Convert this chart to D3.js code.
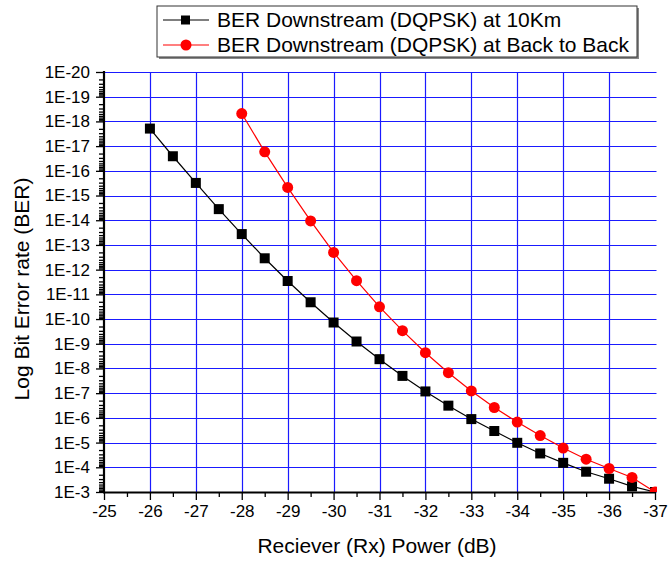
<!DOCTYPE html>
<html>
<head>
<meta charset="utf-8">
<script src="https://cdn.jsdelivr.net/npm/d3@7"></script>
<style>
  html, body { margin: 0; padding: 0; background: #fff; }
  svg { display: block; }
  svg text { font-family: "Liberation Sans", Arial, sans-serif; }
</style>
</head>
<body>
<svg id="chart" width="670" height="564"></svg>
<script>
// ---- data ----
const powerLevels = [-26, -26.5, -27, -27.5, -28, -28.5, -29, -29.5, -30, -30.5, -31, -31.5, -32, -32.5, -33, -33.5, -34, -34.5, -35, -35.5, -36, -36.5, -37];
const ber10Km = [1.95e-18, 2.57e-17, 3.09e-16, 3.55e-15, 3.63e-14, 3.47e-13, 2.88e-12, 2.09e-11, 1.38e-10, 8.1e-10, 4.2e-9, 2.0e-8, 8.5e-8, 3.2e-7, 1.12e-6, 3.4e-6, 1.02e-5, 2.75e-5, 6.6e-5, 1.51e-4, 2.9e-4, 5.9e-4, 1e-3];
const powerLevelsB2B = [-28, -28.5, -29, -29.5, -30, -30.5, -31, -31.5, -32, -32.5, -33, -33.5, -34, -34.5, -35, -35.5, -36, -36.5, -37];
const berB2B = [4.8e-19, 1.7e-17, 4.7e-16, 1.07e-14, 2.0e-13, 2.8e-12, 3.2e-11, 2.95e-10, 2.3e-9, 1.48e-8, 8.1e-8, 3.8e-7, 1.48e-6, 5.2e-6, 1.66e-5, 4.7e-5, 1.12e-4, 2.57e-4, 1e-3];
const xTicks = [-25, -26, -27, -28, -29, -30, -31, -32, -33, -34, -35, -36, -37];
const yExponents = [3, 4, 5, 6, 7, 8, 9, 10, 11, 12, 13, 14, 15, 16, 17, 18, 19, 20];
const seriesNames = ["BER Downstream (DQPSK) at 10Km", "BER Downstream (DQPSK) at Back to Back"];
const xTitle = "Reciever (Rx) Power (dB)";
const yTitle = "Log Bit Error rate (BER)";

// ---- layout ----
const L = 104, R = 655, T = 72, B = 492;
const svg = d3.select("#chart");
const x = d3.scaleLinear().domain([-25, -37]).range([L, R]);
const y = d3.scaleLog().domain([1e-3, 1e-20]).range([B, T]);

const defs = svg.append("defs");
defs.append("clipPath").attr("id", "plotclip")
  .append("rect").attr("x", L).attr("y", T - 8).attr("width", R - L + 2).attr("height", B - T + 8);

// grid
const gridColor = "#1a1aff";
svg.append("g").selectAll("line")
  .data(yExponents.map(e => Math.pow(10, -e)))
  .join("line")
  .attr("x1", L).attr("x2", R + 1.5)
  .attr("y1", d => Math.round(y(d)) + 0.5).attr("y2", d => Math.round(y(d)) + 0.5)
  .attr("stroke", gridColor).attr("stroke-width", 1.2);
svg.append("g").selectAll("line")
  .data(xTicks.filter(v => v !== -25 && v !== -37))
  .join("line")
  .attr("x1", d => Math.round(x(d)) + 0.5).attr("x2", d => Math.round(x(d)) + 0.5)
  .attr("y1", T).attr("y2", B)
  .attr("stroke", gridColor).attr("stroke-width", 1.2);

// axes
const fmtY = d => "1E" + Math.round(Math.log10(d));
const yMajor = yExponents.map(e => Math.pow(10, -e));
const yMinor = [];
yExponents.slice(0, -1).forEach(e => { for (let k = 2; k <= 9; k++) yMinor.push(k * Math.pow(10, -e - 1)); });

const yAxisMinor = svg.append("g").attr("transform", `translate(${L},0)`)
  .call(d3.axisLeft(y).tickValues(yMinor).tickSize(5).tickFormat(""));
const yAxis = svg.append("g").attr("transform", `translate(${L},0)`)
  .call(d3.axisLeft(y).tickValues(yMajor).tickSize(8).tickPadding(6).tickFormat(fmtY));
[yAxisMinor, yAxis].forEach(g => {
  g.attr("font-family", null);
  g.select(".domain").remove();
  g.selectAll(".tick line").attr("stroke", "#000").attr("stroke-width", 1.3);
});
yAxis.selectAll("text").attr("font-size", 17).attr("fill", "#000");

const xMinor = d3.range(-25.5, -37, -1);
const xAxisMinor = svg.append("g").attr("transform", `translate(0,${B})`)
  .call(d3.axisBottom(x).tickValues(xMinor).tickSize(5).tickFormat(""));
const xAxis = svg.append("g").attr("transform", `translate(0,${B})`)
  .call(d3.axisBottom(x).tickValues(xTicks).tickSize(8).tickPadding(5).tickFormat(d => d));
[xAxisMinor, xAxis].forEach(g => {
  g.attr("font-family", null);
  g.select(".domain").remove();
  g.selectAll(".tick line").attr("stroke", "#000").attr("stroke-width", 1.3);
});
xAxis.selectAll("text").attr("font-size", 17).attr("fill", "#000");

// axis lines
svg.append("line").attr("x1", L).attr("x2", L).attr("y1", T - 1).attr("y2", B + 1)
  .attr("stroke", "#000").attr("stroke-width", 2.2);
svg.append("line").attr("x1", L - 1).attr("x2", R + 1).attr("y1", B + 0.5).attr("y2", B + 0.5)
  .attr("stroke", "#000").attr("stroke-width", 2);

// series
const s1 = powerLevels.map((p, i) => ({ p, v: ber10Km[i] }));
const s2 = powerLevelsB2B.map((p, i) => ({ p, v: berB2B[i] }));
const line = d3.line().x(d => x(d.p)).y(d => y(d.v));
const plot = svg.append("g").attr("clip-path", "url(#plotclip)");

plot.append("path").datum(s1).attr("d", line).attr("fill", "none").attr("stroke", "#000").attr("stroke-width", 1.2);
plot.selectAll("rect").data(s1).join("rect")
  .attr("x", d => x(d.p) - 5).attr("y", d => y(d.v) - 5)
  .attr("width", 10).attr("height", 10).attr("fill", "#000");

plot.append("path").datum(s2).attr("d", line).attr("fill", "none").attr("stroke", "#ff0000").attr("stroke-width", 1.2);
plot.selectAll("circle").data(s2).join("circle")
  .attr("cx", d => x(d.p)).attr("cy", d => y(d.v)).attr("r", 5.5).attr("fill", "#ff0000");

// titles
svg.append("text").attr("x", 377).attr("y", 553).attr("text-anchor", "middle")
  .attr("font-size", 21).attr("fill", "#000").text(xTitle);
svg.append("text").attr("transform", `translate(29,289) rotate(-90)`)
  .attr("text-anchor", "middle").attr("font-size", 21).attr("fill", "#000").text(yTitle);

// legend
const lg = svg.append("g");
lg.append("rect").attr("x", 159).attr("y", 8).attr("width", 480).attr("height", 51).attr("fill", "#888");
lg.append("rect").attr("x", 157).attr("y", 6).attr("width", 480).attr("height", 51)
  .attr("fill", "#fff").attr("stroke", "#333").attr("stroke-width", 1);
const rows = [{ name: seriesNames[0], color: "#000", shape: "square", cy: 20, base: 27 },
              { name: seriesNames[1], color: "#ff0000", shape: "circle", cy: 45, base: 52 }];
rows.forEach(r => {
  lg.append("line").attr("x1", 163).attr("x2", 209).attr("y1", r.cy).attr("y2", r.cy)
    .attr("stroke", r.color).attr("stroke-width", 1.2);
  if (r.shape === "square") {
    lg.append("rect").attr("x", 181).attr("y", r.cy - 4.5).attr("width", 9).attr("height", 9).attr("fill", r.color);
  } else {
    lg.append("circle").attr("cx", 186).attr("cy", r.cy).attr("r", 5.5).attr("fill", r.color);
  }
  lg.append("text").attr("x", 217).attr("y", r.base).attr("font-size", 21).attr("fill", "#000").text(r.name);
});
</script>
</body>
</html>
